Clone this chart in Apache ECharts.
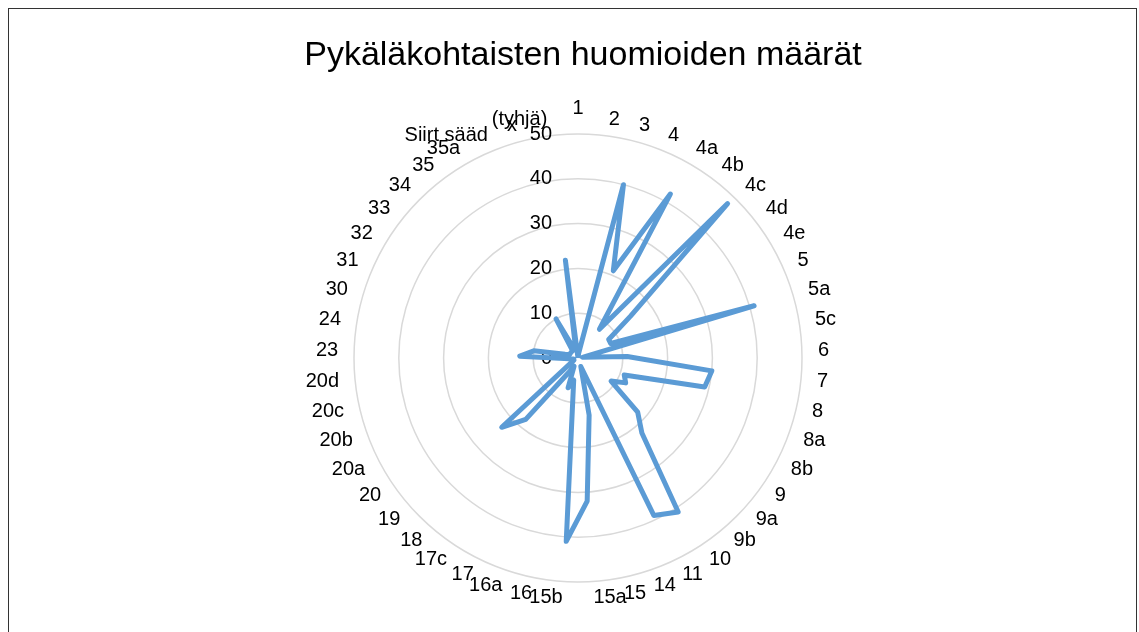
<!DOCTYPE html>
<html>
<head>
<meta charset="utf-8">
<script src="https://cdn.jsdelivr.net/npm/echarts@6/dist/echarts.min.js"></script>
<style>
html, body { margin: 0; padding: 0; background: #fff; }
#chart { width: 1139px; height: 632px; }
#frame { position: absolute; left: 8px; top: 8px; width: 1127px; height: 700px; border: 1px solid #333; pointer-events: none; }
</style>
</head>
<body>
<div id="chart"></div>
<div id="frame"></div>
<script>
// pykälät (kulkevat myötäpäivään ylhäältä)
var categories = ['1', '2', '3', '4', '4a', '4b', '4c', '4d', '4e', '5',
    '5a', '5c', '6', '7', '8', '8a', '8b', '9', '9a', '9b',
    '10', '11', '14', '15', '15a', '15b', '16', '16a', '17', '17c',
    '18', '19', '20', '20a', '20b', '20c', '20d', '23', '24', '30',
    '31', '32', '33', '34', '35', '35a', 'Siirt sääd', 'x', '(tyhjä)'];
var counts = [0, 1, 40, 21, 42, 8, 48, 15, 8, 8,
    41, 1, 11, 30, 29, 11, 12, 9, 18, 22,
    41, 39, 2, 13, 32, 41, 5, 7, 2, 4,
    18, 23, 2, 1, 1, 1, 2, 13, 10, 3,
    2, 2, 2, 2, 2, 10, 2, 2, 22];
var axisMax = 50;
var axisSplit = 5;

var FONT = 'Liberation Sans, Arial, sans-serif';

// ECharts kiertää vastapäivään -> käännetään järjestys (ensimmäinen pysyy ylhäällä)
var order = [0];
for (var i = categories.length - 1; i > 0; i--) order.push(i);

var indicators = order.map(function (i, k) {
    var ind = { name: categories[i], max: axisMax, min: 0 };
    if (k === 0) {
        ind.axisLabel = { show: true };
    }
    return ind;
});
var seriesValues = order.map(function (i) { return counts[i]; });

var myChart = echarts.init(document.getElementById('chart'));
myChart.setOption({
    animation: false,
    title: {
        text: 'Pykäläkohtaisten huomioiden määrät',
        left: 578,
        textAlign: 'center',
        top: 34,
        textStyle: { fontFamily: FONT, fontSize: 34, fontWeight: 'normal', color: '#000' }
    },
    radar: {
        center: [578, 358],
        radius: 224,
        shape: 'circle',
        splitNumber: axisSplit,
        nameGap: 16,
        axisName: { color: '#000', fontFamily: FONT, fontSize: 20 },
        axisLine: { show: false },
        axisTick: { show: false },
        axisLabel: { show: false, color: '#000', fontFamily: FONT, fontSize: 20, margin: 26 },
        splitLine: { lineStyle: { color: '#D9D9D9', width: 1.5 } },
        splitArea: { show: false },
        indicator: indicators
    },
    series: [{
        type: 'radar',
        symbol: 'none',
        lineStyle: { color: '#5B9BD5', width: 5, join: 'round' },
        data: [{ value: seriesValues, name: 'Määrä' }]
    }]
});
</script>
</body>
</html>
